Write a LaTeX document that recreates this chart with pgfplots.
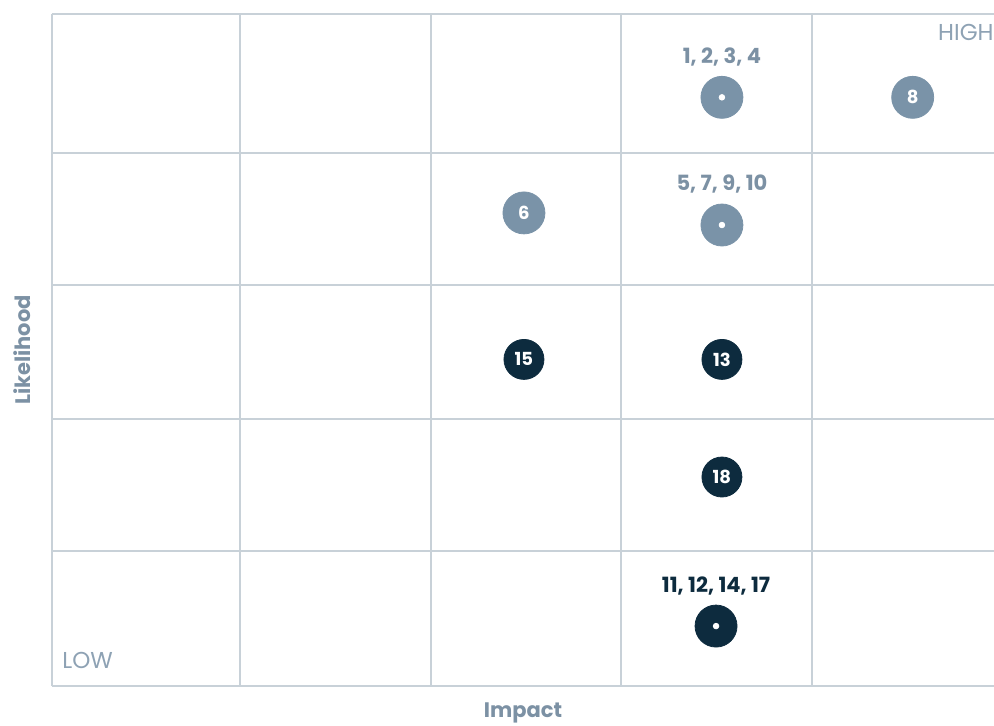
\documentclass[border=0pt]{standalone}
\usepackage{fontspec}
\setmainfont{Poppins}
\usepackage{pgfplots}
\pgfplotsset{compat=1.18}
\definecolor{gridc}{HTML}{C8D1D8}
\definecolor{greyb}{HTML}{7A93A8}
\definecolor{navy}{HTML}{0D2B3E}
\definecolor{lbl}{HTML}{7C91A4}
\definecolor{lite}{HTML}{8EA2B4}
\begin{document}
\begin{tikzpicture}
\begin{axis}[name=ax, scale only axis, width=471pt, height=336pt,
  xmin=0, xmax=4.958, ymin=0, ymax=5,
  axis line style={draw=none},
  xtick={0,0.989,1.995,2.995,4.0}, ytick={0,1.004,1.987,2.984,3.966,5},
  xticklabels={}, yticklabels={},
  grid=major, grid style={gridc, line width=1pt},
  major tick length=0pt,
  clip=false,
  xlabel={\textbf{Impact}}, ylabel={\textbf{Likelihood}},
  label style={lbl, font=\fontsize{10.5}{12}\selectfont},
  xlabel style={at={(axis description cs:0.5,-0.0402)}, anchor=center},
  ylabel style={at={(axis description cs:-0.0318,0.5)}, anchor=center},
]
% grey single risks
\addplot[greyb, only marks, mark=*, mark size=10.5pt, mark options={fill=greyb, draw=greyb},
  nodes near coords, point meta=explicit symbolic,
  every node near coord/.append style={anchor=center, text=white, font=\bfseries\fontsize{9}{10}\selectfont}]
  coordinates {(4.53,4.38) [8] (2.484,3.52) [6]};
% grey grouped risks
\addplot[greyb, only marks, mark=*, mark size=10.5pt, mark options={fill=greyb, draw=greyb}]
  coordinates {(3.526,4.38) (3.526,3.43)};
\addplot[white, only marks, mark=*, mark size=1.4pt, mark options={fill=white, draw=white}]
  coordinates {(3.526,4.38) (3.526,3.43)};
% navy single risks
\addplot[navy, only marks, mark=*, mark size=10pt, mark options={fill=navy, draw=navy},
  nodes near coords, point meta=explicit symbolic,
  every node near coord/.append style={anchor=center, text=white, font=\bfseries\fontsize{9}{10}\selectfont}]
  coordinates {(2.484,2.43) [15] (3.526,2.43) [13] (3.526,1.555) [18]};
% navy grouped risks
\addplot[navy, only marks, mark=*, mark size=10.5pt, mark options={fill=navy, draw=navy}]
  coordinates {(3.495,0.446)};
\addplot[white, only marks, mark=*, mark size=1.4pt, mark options={fill=white, draw=white}]
  coordinates {(3.495,0.446)};
% group labels
\addplot[draw=none, nodes near coords, point meta=explicit symbolic,
  every node near coord/.append style={anchor=center, text=lbl, font=\bfseries\fontsize{10.5}{12}\selectfont}]
  coordinates {(3.526,4.68) [{1, 2, 3, 4}] (3.526,3.735) [{5, 7, 9, 10}]};
\addplot[draw=none, nodes near coords, point meta=explicit symbolic,
  every node near coord/.append style={anchor=center, text=navy, font=\bfseries\fontsize{10.5}{12}\selectfont}]
  coordinates {(3.495,0.744) [{11, 12, 14, 17}]};
\node[anchor=east, text=lite, font=\fontsize{11.5}{13}\selectfont, inner sep=0pt] at (axis cs:4.958,4.866) {HIGH};
\node[anchor=west, text=lite, font=\fontsize{11.5}{13}\selectfont, inner sep=0pt] at (axis cs:0.0526,0.193) {LOW};
\end{axis}
\pgfresetboundingbox
\path (ax.south west) ++(-26pt,-19.5pt) rectangle ++(497pt,362.5pt);
\end{tikzpicture}
\end{document}
